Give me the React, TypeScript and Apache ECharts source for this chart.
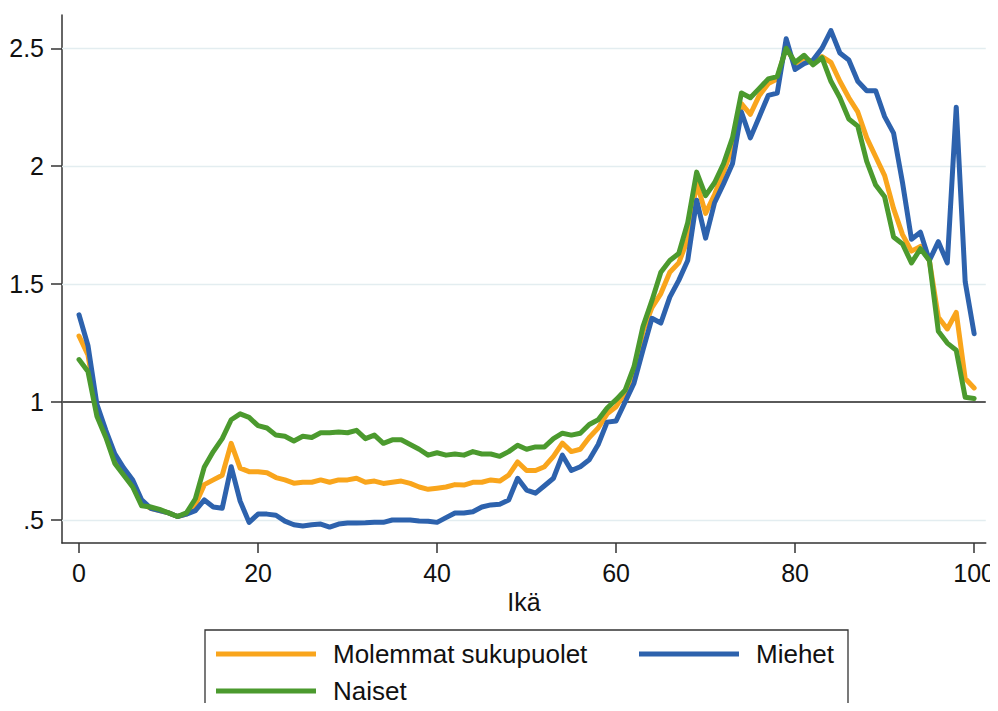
import React, { useEffect, useRef } from "react";
import * as echarts from "echarts";

const ages: number[] = Array.from({ length: 101 }, (_, i) => i);

const molemmat: number[] = [
  1.28, 1.20, 0.97, 0.86, 0.76, 0.70, 0.66, 0.57, 0.55, 0.54,
  0.53, 0.515, 0.525, 0.565, 0.65, 0.67, 0.69, 0.825, 0.72, 0.705,
  0.705, 0.70, 0.68, 0.67, 0.656, 0.66, 0.66, 0.67, 0.66, 0.67,
  0.67, 0.677, 0.66, 0.665, 0.655, 0.66, 0.665, 0.655, 0.64, 0.63,
  0.635, 0.64, 0.65, 0.648, 0.66, 0.66, 0.67, 0.665, 0.69, 0.746,
  0.71, 0.71, 0.726, 0.77, 0.826, 0.79, 0.80, 0.85, 0.89, 0.95,
  0.98, 1.04, 1.12, 1.30, 1.40, 1.46, 1.55, 1.59, 1.69, 1.93,
  1.80, 1.88, 1.975, 2.08, 2.265, 2.22, 2.30, 2.35, 2.37, 2.505,
  2.435, 2.46, 2.44, 2.465, 2.44, 2.36, 2.29, 2.23, 2.12, 2.04,
  1.96, 1.82, 1.71, 1.64, 1.66, 1.60, 1.36, 1.31, 1.38, 1.10,
  1.06,
];

const miehet: number[] = [
  1.37, 1.24, 0.99, 0.88, 0.78, 0.72, 0.67, 0.585, 0.55, 0.54,
  0.53, 0.515, 0.525, 0.54, 0.585, 0.555, 0.55, 0.726, 0.58, 0.49,
  0.525, 0.525, 0.52, 0.495, 0.48, 0.475, 0.48, 0.483, 0.47, 0.483,
  0.487, 0.487, 0.488, 0.49, 0.49, 0.50, 0.50, 0.50, 0.496, 0.495,
  0.49, 0.51, 0.53, 0.53, 0.535, 0.555, 0.564, 0.567, 0.585, 0.677,
  0.627, 0.614, 0.645, 0.677, 0.775, 0.71, 0.726, 0.755, 0.82, 0.915,
  0.92, 1.0, 1.08, 1.22, 1.355, 1.335, 1.445, 1.516, 1.60, 1.856,
  1.695, 1.845, 1.925, 2.01, 2.23, 2.12, 2.21, 2.30, 2.31, 2.54,
  2.41, 2.435, 2.45, 2.50, 2.575, 2.48, 2.45, 2.36, 2.32, 2.32,
  2.21, 2.14, 1.93, 1.69, 1.72, 1.60, 1.68, 1.59, 2.25, 1.51,
  1.29,
];

const naiset: number[] = [
  1.18, 1.13, 0.94, 0.85, 0.74, 0.69, 0.64, 0.56, 0.555, 0.545,
  0.53, 0.515, 0.53, 0.59, 0.725, 0.79, 0.845, 0.925, 0.95, 0.935,
  0.90, 0.89, 0.86, 0.855, 0.835, 0.855, 0.85, 0.87, 0.87, 0.873,
  0.87, 0.88, 0.845, 0.86, 0.825, 0.84, 0.84, 0.82, 0.80, 0.775,
  0.785, 0.775, 0.78, 0.775, 0.79, 0.78, 0.78, 0.77, 0.79, 0.817,
  0.80, 0.81, 0.81, 0.845, 0.868, 0.86, 0.868, 0.905, 0.925, 0.975,
  1.01, 1.05, 1.15, 1.32, 1.43, 1.55, 1.60, 1.63, 1.76, 1.975,
  1.875, 1.93, 2.01, 2.12, 2.31, 2.29, 2.33, 2.37, 2.38, 2.50,
  2.44, 2.47, 2.43, 2.46, 2.36, 2.29, 2.20, 2.17, 2.02, 1.92,
  1.87, 1.70, 1.67, 1.59, 1.65, 1.60, 1.30, 1.25, 1.22, 1.02,
  1.015,
];

const xTicks: number[] = [0, 20, 40, 60, 80, 100];
const yTicks: number[] = [0.5, 1, 1.5, 2, 2.5];
const yGridLines: number[] = [0.5, 1.5, 2, 2.5];
const refLine = 1;

const seriesNames = ["Molemmat sukupuolet", "Miehet", "Naiset"];
const colors = ["#F9A51C", "#2D62AD", "#4B9A2E"];

const FONT = "'Liberation Sans', Arial, Helvetica, sans-serif";

export default function App() {
  const ref = useRef<HTMLDivElement>(null);

  useEffect(() => {
    if (!ref.current) return;
    const chart = echarts.init(ref.current, undefined, { renderer: "svg" });
    const allData = [molemmat, miehet, naiset];

    const lineSeries = seriesNames.map((name, i) => ({
      name,
      type: "line",
      data: ages.map((a, k) => [a, allData[i][k]]),
      showSymbol: false,
      symbol: "none",
      color: colors[i],
      lineStyle: { color: colors[i], width: 5, join: "round", cap: "round" },
      z: 3 + i,
    }));

    const refSeries = {
      name: "__ref",
      type: "line",
      data: [],
      silent: true,
      z: 1,
      markLine: {
        silent: true,
        symbol: "none",
        z: 1,
        label: { show: false },
        emphasis: { disabled: true },
        animation: false,
        data: [
          ...yGridLines.map((v) => ({
            yAxis: v,
            lineStyle: { color: "#E3EDF0", width: 1.3, type: "solid" },
          })),
          { yAxis: refLine, lineStyle: { color: "#5a5a5a", width: 2, type: "solid" } },
        ],
      },
    };

    const legendCommon = {
      orient: "horizontal",
      icon: "rect",
      itemWidth: 100,
      itemHeight: 5,
      padding: 0,
      itemGap: 0,
      selectedMode: false,
      textStyle: {
        fontFamily: FONT,
        fontSize: 26,
        color: "#111",
        padding: [0, 0, 0, 12],
        lineHeight: 30,
      },
    };

    chart.setOption({
      animation: false,
      backgroundColor: "#ffffff",
      textStyle: { fontFamily: FONT },
      grid: { left: 62, right: 8, top: 15, bottom: 168, containLabel: false },
      legend: [
        { ...legendCommon, data: [seriesNames[0]], left: 216, top: 639 },
        { ...legendCommon, data: [seriesNames[1]], left: 639, top: 639 },
        { ...legendCommon, data: [seriesNames[2]], left: 216, top: 676 },
      ],
      xAxis: {
        type: "value",
        min: -1.9,
        max: 101.3,
        name: "Ikä",
        nameLocation: "middle",
        nameGap: 46,
        nameTextStyle: { fontFamily: FONT, fontSize: 25, color: "#111" },
        axisLine: { show: true, onZero: false, lineStyle: { color: "#333", width: 1.5 } },
        axisTick: {
          show: true,
          customValues: xTicks,
          length: 10,
          lineStyle: { color: "#333", width: 1.5 },
        },
        axisLabel: {
          customValues: xTicks,
          margin: 17,
          fontFamily: FONT,
          fontSize: 25,
          color: "#111",
        },
        splitLine: { show: false },
      },
      yAxis: {
        type: "value",
        min: 0.4025,
        max: 2.641,
        axisLine: { show: true, onZero: false, lineStyle: { color: "#333", width: 1.5 } },
        axisTick: {
          show: true,
          customValues: yTicks,
          length: 11,
          lineStyle: { color: "#333", width: 1.5 },
        },
        axisLabel: {
          customValues: yTicks,
          margin: 18,
          fontFamily: FONT,
          fontSize: 25,
          color: "#111",
          formatter: (v: number) => (v === 0.5 ? ".5" : String(v)),
        },
        splitLine: { show: false },
      },
      graphic: [
        {
          type: "polyline",
          shape: { points: [[205, 720], [205, 630], [848, 630], [848, 720]] },
          style: { fill: "none", stroke: "#333", lineWidth: 1.3 },
          silent: true,
          z: 0,
        },
      ],
      series: [refSeries, ...lineSeries],
    });

    return () => chart.dispose();
  }, []);

  return <div ref={ref} style={{ width: 998, height: 711, margin: -8 }} />;
}
